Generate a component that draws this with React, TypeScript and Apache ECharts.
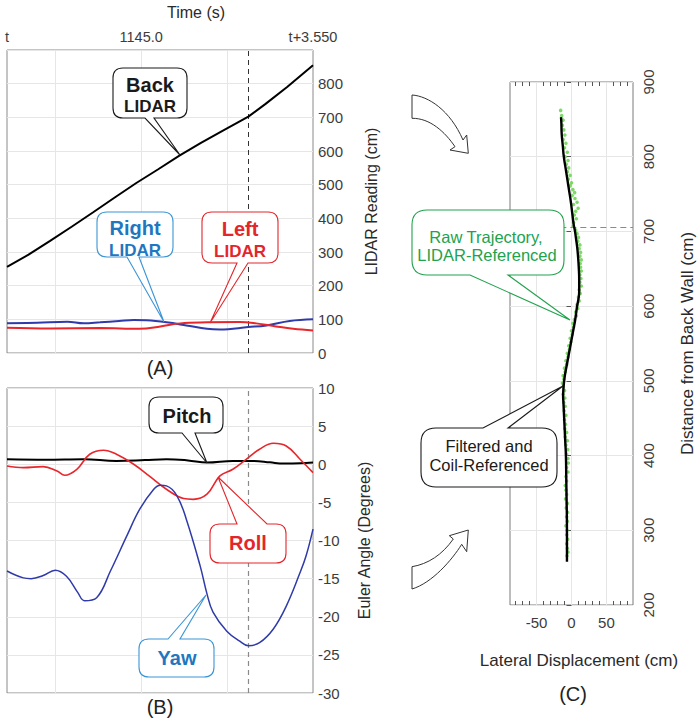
import React, { useEffect, useRef } from "react";
import * as echarts from "echarts";

const FONT = '"Liberation Sans", Arial, Helvetica, sans-serif';

// ---------- Panel A : LIDAR readings ----------
const timeTickValues = [0, 1.557, 3.55];
const timeTickLabels = ["t", "1145.0", "t+3.550"];
const timeGridValues = [0.557, 1.557, 2.557];
const markTime = 2.8;

const backT = [0, 0.25, 0.5, 0.75, 1.0, 1.25, 1.5, 1.75, 2.0, 2.25, 2.5, 2.7, 2.8, 3.0, 3.25, 3.55];
const backV = [256, 292, 333, 375, 418, 462, 505, 545, 586, 624, 660, 688, 702, 740, 790, 855];

const rightT = [0, 0.35, 0.7, 0.89, 1.08, 1.3, 1.47, 1.62, 1.85, 2.08, 2.32, 2.47, 2.8, 3.01, 3.28, 3.55];
const rightV = [88, 90, 93, 88, 91, 95, 98, 97, 91, 82, 72, 70, 77, 82, 95, 100];

const leftT = [0, 0.5, 1.08, 1.54, 1.78, 2.01, 2.32, 2.7, 2.89, 3.12, 3.32, 3.55];
const leftV = [75, 73, 74, 72, 79, 88, 91, 92, 88, 79, 72, 67];

// ---------- Panel B : Euler angles ----------
const pitchT = [0, 0.45, 0.885, 1.27, 1.6, 1.85, 2.1, 2.32, 2.62, 2.86, 3.05, 3.21, 3.4, 3.55];
const pitchV = [0.66, 0.6, 0.66, 0.44, 0.55, 0.66, 0.5, 0.22, 0.44, 0.44, 0.25, 0.09, 0.12, 0.22];

const rollT = [0, 0.19, 0.42, 0.58, 0.67, 0.81, 0.96, 1.12, 1.27, 1.47, 1.66, 1.85, 2.05, 2.16, 2.32, 2.47, 2.62, 2.8, 2.93, 3.09, 3.24, 3.4, 3.55];
const rollV = [-0.22, -0.44, -0.31, -0.9, -1.44, -0.66, 1.31, 1.84, 1.31, 0, -1.62, -3.28, -4.5, -4.6, -3.93, -1.53, -0.66, 0.87, 1.97, 2.75, 2.4, 0.66, -1.1];

const yawT = [0, 0.19, 0.28, 0.42, 0.56, 0.69, 0.82, 0.9, 1.04, 1.2, 1.39, 1.54, 1.7, 1.78, 1.85, 1.97, 2.08, 2.24, 2.32, 2.39, 2.55, 2.7, 2.8, 2.93, 3.09, 3.24, 3.4, 3.47, 3.55];
const yawV = [-14.0, -14.9, -15.0, -14.6, -13.9, -14.7, -16.8, -17.9, -17.5, -14.0, -9.4, -5.9, -3.3, -2.75, -2.84, -4.1, -7.2, -13.3, -17.0, -19.4, -21.9, -23.2, -23.8, -23.4, -21.6, -18.6, -14.2, -12.0, -8.5];

// ---------- Panel C : trajectory ----------
const filteredX = [-15, -14.5, -14, -12.5, -11, -8.5, -6, -3.5, -1, 1, 3, 5, 6.5, 8, 9.5, 10.5, 11, 11, 10, 8, 6.5, 5, 3, 1, -1, -3, -5, -7, -9, -10.5, -11.5, -12, -11.5, -10.5, -9, -8, -7.5, -7, -6.5, -6.5];
const filteredY = [853, 845, 830, 815, 800, 785, 770, 755, 740, 725, 710, 700, 690, 680, 665, 650, 635, 620, 610, 600, 590, 580, 570, 560, 550, 540, 530, 520, 510, 500, 490, 480, 470, 450, 420, 400, 370, 340, 300, 258];

const rawX = [-15.5, -14, -12, -13, -11, -9.5, -12, -8, -10, -6, -9, -5, -7.5, -4, -6, -2, -4.5, 0, -2, 2, 4.5, 1, 5, 8, 3, 9.5, 6, 4, 7, 3, 2.5, 6, 8, 10, 9, 12, 11, 13, 12, 14, 12.5, 13, 14, 12, 13.5, 12, 14, 11, 12.5, 10, 11, 8, 9, 6, 7, 4, 2, 3, 0, 1, -2, -1, -4, -3, -6, -5, -8, -7, -10, -9, -12, -11, -13, -12, -10, -12, -9.5, -11, -9, -10.5, -8, -10, -8.5, -9.5, -7, -9, -6, -8, -5.5, -7, -5, -4.5, -7, -5, -8, -7, -9, -8, -7, -8.5, -6, -7.5, -5.5, -7, -6, -8, -6.5, -7, -5.5, -7, -6, -5, -6.5];
const rawY = [862, 855, 849, 842, 836, 829, 823, 818, 812, 806, 800, 795, 790, 785, 780, 775, 770, 765, 761, 756, 752, 748, 744, 739, 736, 731, 727, 722, 717, 712, 707, 702, 697, 692, 687, 682, 677, 672, 667, 662, 657, 652, 647, 642, 637, 632, 627, 622, 617, 612, 607, 602, 597, 592, 587, 582, 577, 572, 567, 562, 557, 552, 547, 542, 537, 532, 527, 522, 517, 512, 507, 502, 497, 492, 487, 482, 477, 471, 466, 460, 454, 448, 442, 436, 431, 425, 420, 414, 408, 402, 396, 390, 384, 378, 372, 366, 360, 354, 348, 342, 336, 330, 324, 318, 312, 306, 300, 294, 288, 282, 276, 271, 266];

const lateralLabelValues = [-50, 0, 50];
const lateralMinorTicks = [-80, -70, -60, -50, -40, -30, -20, -10, 0, 10, 20, 30, 40, 50, 60, 70, 80];
const markDistance = 705;

// ---------- annotation geometry (pixels) ----------
type Callout = {
  id: string;
  box: number[];
  r: number;
  side: "top" | "bottom";
  base: number[];
  tip: number[];
  stroke: string;
  color: string;
  lines: { text: string; x: number; y: number; size: number; bold: boolean }[];
};

const CALLOUTS: Callout[] = [
  { id: "cBack", box: [113, 68, 187, 118], r: 10, side: "bottom", base: [145, 154], tip: [180, 155], stroke: "#1a1a1a", color: "#1a1a1a",
    lines: [{ text: "Back", x: 150, y: 85, size: 20, bold: true }, { text: "LIDAR", x: 150, y: 106, size: 17, bold: true }] },
  { id: "cRight", box: [97, 212, 173, 257], r: 10, side: "bottom", base: [127, 139], tip: [164, 322], stroke: "#3a95d5", color: "#1f77c0",
    lines: [{ text: "Right", x: 135, y: 228, size: 20, bold: true }, { text: "LIDAR", x: 135, y: 250, size: 17, bold: true }] },
  { id: "cLeft", box: [202, 212, 278, 263], r: 10, side: "bottom", base: [237, 248], tip: [210, 323], stroke: "#e3262b", color: "#e3262b",
    lines: [{ text: "Left", x: 240, y: 229, size: 20, bold: true }, { text: "LIDAR", x: 240, y: 251, size: 17, bold: true }] },
  { id: "cPitch", box: [149, 397, 223, 433], r: 10, side: "bottom", base: [182, 195], tip: [207, 463], stroke: "#1a1a1a", color: "#1a1a1a",
    lines: [{ text: "Pitch", x: 187, y: 416, size: 20, bold: true }] },
  { id: "cRoll", box: [210, 524, 286, 563], r: 10, side: "top", base: [237, 267], tip: [218, 477], stroke: "#e3262b", color: "#e3262b",
    lines: [{ text: "Roll", x: 248, y: 543, size: 20, bold: true }] },
  { id: "cYaw", box: [139, 639, 214, 677], r: 10, side: "top", base: [168, 180], tip: [206, 595], stroke: "#3a95d5", color: "#1f77c0",
    lines: [{ text: "Yaw", x: 177, y: 658, size: 20, bold: true }] },
  { id: "cRaw", box: [412, 210, 564, 275], r: 15, side: "bottom", base: [470, 508], tip: [570, 320], stroke: "#22a24e", color: "#22a24e",
    lines: [{ text: "Raw Trajectory,", x: 486, y: 237, size: 16.5, bold: false }, { text: "LIDAR-Referenced", x: 487, y: 255, size: 16.5, bold: false }] },
  { id: "cFilt", box: [421, 428, 557, 487], r: 15, side: "top", base: [483, 508], tip: [563, 386], stroke: "#1a1a1a", color: "#1a1a1a",
    lines: [{ text: "Filtered and", x: 489, y: 446, size: 16.5, bold: false }, { text: "Coil-Referenced", x: 489, y: 465, size: 16.5, bold: false }] },
];

function calloutPath(c: Callout): string {
  const [x0, y0, x1, y1] = c.box;
  const r = c.r;
  const [b1, b2] = c.base;
  const [tx, ty] = c.tip;
  let d = `M${x0 + r},${y0} `;
  if (c.side === "top") d += `L${b1},${y0} L${tx},${ty} L${b2},${y0} `;
  d += `L${x1 - r},${y0} Q${x1},${y0} ${x1},${y0 + r} L${x1},${y1 - r} Q${x1},${y1} ${x1 - r},${y1} `;
  if (c.side === "bottom") d += `L${b2},${y1} L${tx},${ty} L${b1},${y1} `;
  d += `L${x0 + r},${y1} Q${x0},${y1} ${x0},${y1 - r} L${x0},${y0 + r} Q${x0},${y0} ${x0 + r},${y0} Z`;
  return d;
}

const ARROW_TOP = "M412,95 C428,96 450,110 463,140 L466.7,135 L468.3,153.3 L450,150 L455,146.7 C445,132 430,118 412,118.3 Z";
const ARROW_BOTTOM = "M412,566.7 C428,564 442,555 453.3,539 L449.3,535.7 L468.3,530 L466.7,551.7 L461.7,544.3 C452,560 432,583 412,589 Z";

let shapesRegistered = false;
function registerShapes() {
  if (shapesRegistered) return;
  shapesRegistered = true;
  CALLOUTS.forEach((c) => {
    echarts.graphic.registerShape(c.id, echarts.graphic.extendPath(calloutPath(c), {}));
  });
  echarts.graphic.registerShape("arrowTop", echarts.graphic.extendPath(ARROW_TOP, {}));
  echarts.graphic.registerShape("arrowBottom", echarts.graphic.extendPath(ARROW_BOTTOM, {}));
}

const zip = (a: number[], b: number[]) => a.map((v, i) => [v, b[i]]);

const GRID_COLOR = "#e6e6e6";
const LABEL_COLOR = "#3c3c3c";
const BLUE_LINE = "#2f3ba8";
const RED_LINE = "#e8262b";

function textEl(text: string, x: number, y: number, size: number, color: string, bold = false) {
  return {
    type: "text",
    x,
    y,
    z: 12,
    style: {
      text,
      fill: color,
      fontSize: size,
      fontWeight: bold ? "bold" : "normal",
      fontFamily: FONT,
      align: "center",
      verticalAlign: "middle",
      textAlign: "center",
      textVerticalAlign: "middle",
    },
  };
}

function buildOption() {
  const timeGridMarks = timeGridValues.map((v) => ({ xAxis: v, lineStyle: { color: GRID_COLOR, type: "solid", width: 1 } }));

  const graphics: any[] = [];
  CALLOUTS.forEach((c) => {
    graphics.push({ type: c.id, x: 0, y: 0, z: 10, shape: {}, style: { fill: "#ffffff", stroke: c.stroke, lineWidth: 1.1 } });
    c.lines.forEach((l) => graphics.push(textEl(l.text, l.x, l.y, l.size, c.color, l.bold)));
  });
  graphics.push({ type: "arrowTop", x: 0, y: 0, z: 10, shape: {}, style: { fill: "#ffffff", stroke: "#333333", lineWidth: 1 } });
  graphics.push({ type: "arrowBottom", x: 0, y: 0, z: 10, shape: {}, style: { fill: "#ffffff", stroke: "#333333", lineWidth: 1 } });
  graphics.push(textEl("(A)", 160, 368, 20, "#222"));
  graphics.push(textEl("(B)", 160, 707, 20, "#222"));
  graphics.push(textEl("(C)", 573, 694, 20, "#222"));

  const axisName = (size: number) => ({ fontSize: size, color: "#2a2a2a", fontFamily: FONT });
  const tickLabel = { fontSize: 15, color: LABEL_COLOR, fontFamily: FONT };

  return {
    animation: false,
    backgroundColor: "#ffffff",
    textStyle: { fontFamily: FONT },
    grid: [
      { left: 7, top: 50, width: 306, height: 303, show: true, borderColor: "#8a8a8a", borderWidth: 1 },
      { left: 7, top: 388, width: 306, height: 305, show: true, borderColor: "#8a8a8a", borderWidth: 1 },
      { left: 510, top: 82, width: 123, height: 523, show: true, borderColor: "#7a7a7a", borderWidth: 1 },
    ],
    xAxis: [
      {
        gridIndex: 0, type: "value", position: "top", min: 0, max: 3.55,
        name: "Time (s)", nameLocation: "middle", nameGap: 30,
        nameTextStyle: { ...axisName(16), padding: [0, 0, 0, 72] },
        axisLine: { show: false }, axisTick: { show: false }, splitLine: { show: false },
        axisLabel: {
          customValues: timeTickValues,
          formatter: (v: number) => {
            const i = timeTickValues.findIndex((x) => Math.abs(x - v) < 1e-6);
            return i >= 0 ? timeTickLabels[i] : "";
          },
          fontSize: 14.5, color: LABEL_COLOR, fontFamily: FONT, margin: 6,
        },
      },
      {
        gridIndex: 1, type: "value", min: 0, max: 3.55,
        axisLine: { show: false }, axisTick: { show: false }, axisLabel: { show: false }, splitLine: { show: false },
      },
      {
        gridIndex: 2, type: "value", position: "bottom", min: -88, max: 88,
        name: "Lateral Displacement (cm)", nameLocation: "middle", nameGap: 47,
        nameTextStyle: { ...axisName(17), padding: [0, 0, 0, 15] },
        axisLine: { show: false },
        axisTick: { show: true, inside: true, length: 4, customValues: lateralMinorTicks, lineStyle: { color: "#555" } },
        axisLabel: { customValues: lateralLabelValues, ...tickLabel, margin: 10 },
        splitLine: { show: false },
      },
      {
        gridIndex: 2, type: "value", position: "top", min: -88, max: 88,
        axisLine: { show: false },
        axisTick: { show: true, inside: true, length: 4, customValues: lateralMinorTicks, lineStyle: { color: "#555" } },
        axisLabel: { show: false }, splitLine: { show: false },
      },
    ],
    yAxis: [
      {
        gridIndex: 0, type: "value", position: "right", min: 0, max: 900, interval: 100,
        name: "LIDAR Reading (cm)", nameLocation: "middle", nameGap: 50, nameTextStyle: axisName(16),
        axisLine: { show: false }, axisTick: { show: false },
        axisLabel: { ...tickLabel, margin: 5, formatter: (v: number) => (v >= 900 ? "" : String(v)) },
        splitLine: { show: true, lineStyle: { color: GRID_COLOR } },
      },
      {
        gridIndex: 1, type: "value", position: "right", min: -30, max: 10, interval: 5,
        name: "Euler Angle (Degrees)", nameLocation: "middle", nameGap: 43, nameTextStyle: axisName(16),
        axisLine: { show: false }, axisTick: { show: false },
        axisLabel: { ...tickLabel, margin: 5 },
        splitLine: { show: true, lineStyle: { color: GRID_COLOR } },
      },
      {
        gridIndex: 2, type: "value", position: "right", min: 200, max: 900, interval: 100,
        name: "Distance from Back Wall (cm)", nameLocation: "middle", nameGap: 46, nameTextStyle: axisName(17),
        axisLine: { show: false },
        axisTick: { show: true, inside: true, length: 5, lineStyle: { color: "#555" } },
        axisLabel: { ...tickLabel, margin: 8, rotate: 90 },
        splitLine: { show: true, lineStyle: { color: GRID_COLOR } },
      },
    ],
    series: [
      {
        name: "Back LIDAR", type: "line", xAxisIndex: 0, yAxisIndex: 0, data: zip(backT, backV),
        symbol: "none", lineStyle: { color: "#000000", width: 2 }, z: 3,
        markLine: {
          silent: true, symbol: ["none", "none"], label: { show: false }, z: 1, animation: false,
          data: [...timeGridMarks, { xAxis: markTime, lineStyle: { color: "#333333", type: [5, 4], width: 1 } }],
        },
      },
      {
        name: "Right LIDAR", type: "line", xAxisIndex: 0, yAxisIndex: 0, data: zip(rightT, rightV),
        symbol: "none", smooth: 0.4, lineStyle: { color: BLUE_LINE, width: 2 }, z: 3,
      },
      {
        name: "Left LIDAR", type: "line", xAxisIndex: 0, yAxisIndex: 0, data: zip(leftT, leftV),
        symbol: "none", smooth: 0.4, lineStyle: { color: RED_LINE, width: 2 }, z: 3,
      },
      {
        name: "Pitch", type: "line", xAxisIndex: 1, yAxisIndex: 1, data: zip(pitchT, pitchV),
        symbol: "none", smooth: 0.4, lineStyle: { color: "#000000", width: 2 }, z: 3,
        markLine: {
          silent: true, symbol: ["none", "none"], label: { show: false }, z: 1, animation: false,
          data: [...timeGridMarks, { xAxis: markTime, lineStyle: { color: "#8a8a8a", type: [5, 4], width: 1.2 } }],
        },
      },
      {
        name: "Roll", type: "line", xAxisIndex: 1, yAxisIndex: 1, data: zip(rollT, rollV),
        symbol: "none", smooth: 0.4, lineStyle: { color: RED_LINE, width: 1.6 }, z: 3,
      },
      {
        name: "Yaw", type: "line", xAxisIndex: 1, yAxisIndex: 1, data: zip(yawT, yawV),
        symbol: "none", smooth: 0.4, lineStyle: { color: BLUE_LINE, width: 1.5 }, z: 3,
      },
      {
        name: "Raw Trajectory", type: "scatter", xAxisIndex: 2, yAxisIndex: 2, data: zip(rawX, rawY),
        symbol: "circle", symbolSize: 3.6, itemStyle: { color: "#5fd043" }, z: 3,
        markLine: {
          silent: true, symbol: ["none", "none"], label: { show: false }, z: 1, animation: false,
          data: [
            ...lateralLabelValues.map((v) => ({ xAxis: v, lineStyle: { color: GRID_COLOR, type: "solid", width: 1 } })),
            [
              { coord: [-16, markDistance], lineStyle: { color: "#8a8a8a", type: [6, 4], width: 1.2 } },
              { coord: [88, markDistance] },
            ],
          ],
        },
      },
      {
        name: "Filtered", type: "line", xAxisIndex: 2, yAxisIndex: 2, data: zip(filteredX, filteredY),
        symbol: "none", smooth: 0.5, lineStyle: { color: "#000000", width: 2.4 }, z: 4,
      },
    ],
    graphic: graphics,
  };
}

export default function App() {
  const ref = useRef<HTMLDivElement | null>(null);
  useEffect(() => {
    if (!ref.current) return;
    registerShapes();
    const chart = echarts.init(ref.current, undefined, { renderer: "svg" });
    chart.setOption(buildOption() as any);
    return () => chart.dispose();
  }, []);
  return (
    <div
      ref={ref}
      style={{ position: "absolute", left: 0, top: 0, width: 697, height: 719, background: "#fff" }}
    />
  );
}
